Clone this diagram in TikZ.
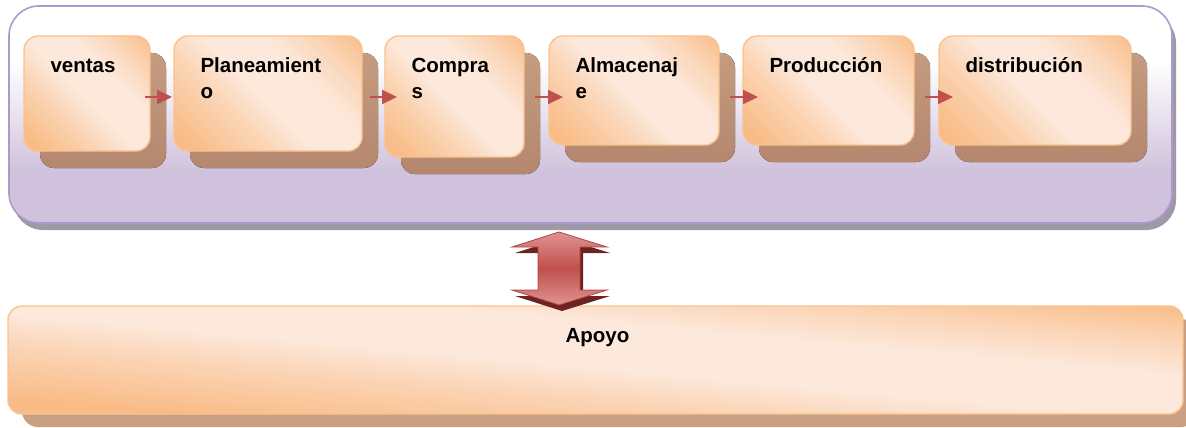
\documentclass[tikz,border=0pt]{standalone}
\usepackage{fontspec}
\setmainfont{Liberation Sans}
\usetikzlibrary{arrows.meta}
\definecolor{pkD}{HTML}{F9BC87}
\definecolor{pkM}{HTML}{FBD5B6}
\definecolor{pkL}{HTML}{FCE9DC}
\definecolor{pkB}{HTML}{F9C28F}
\definecolor{shT}{HTML}{C49C80}
\definecolor{shB}{HTML}{B4876E}
\definecolor{lavB}{HTML}{D0C2DC}
\definecolor{lavLine}{HTML}{AA9CCA}
\definecolor{lavSh}{HTML}{9E98A8}
\definecolor{tanSh}{HTML}{C9A082}
\definecolor{arrRed}{HTML}{C0504D}
\definecolor{rL}{HTML}{DC8E8C}
\definecolor{rD}{HTML}{C0504D}
\definecolor{rEdge}{HTML}{B04444}
\definecolor{rSh}{HTML}{6E2222}
\pgfdeclarehorizontalshading{peachdiag}{100bp}{color(0bp)=(pkD); color(20bp)=(pkD); color(37bp)=(pkM); color(48bp)=(pkL); color(62bp)=(pkL); color(74bp)=(pkM); color(86bp)=(pkD); color(100bp)=(pkD)}
\pgfdeclareverticalshading{lavv}{100bp}{color(0bp)=(lavB); color(37bp)=(lavB); color(62bp)=(white); color(100bp)=(white)}
\pgfdeclareverticalshading{redv}{100bp}{color(0bp)=(rL); color(27bp)=(rL); color(50bp)=(rD); color(73bp)=(rL); color(100bp)=(rL)}
\pgfdeclarelayer{back}
\pgfdeclarelayer{outerL}
\pgfdeclarelayer{shad}
\pgfsetlayers{back,outerL,shad,main}
\begin{document}
\begin{tikzpicture}[x=1pt,y=1pt,
  pbox/.style={draw=pkB, line width=1.4pt, rounded corners=14pt, shade, shading=peachdiag, shading angle=45, inner sep=0pt, outer sep=0pt, anchor=north west},
  pframe/.style={draw=pkB, line width=1.4pt, rounded corners=14pt, inner sep=0pt, outer sep=0pt, anchor=north west},
  shbox/.style={rounded corners=14pt, top color=shT, bottom color=shB},
  lbl/.style={font=\fontsize{20.5}{26}\selectfont\bfseries, inner sep=0pt, outer sep=0pt, anchor=base west, text=black},
  smallarr/.style={draw=arrRed, line width=2.2pt, -{Triangle[length=15pt,width=14pt]}}
]
\useasboundingbox (0,0) rectangle (1186,-428);
% outer container
\begin{pgfonlayer}{outerL}
\node[draw=lavLine, line width=1.6pt, rounded corners=30pt, shade, shading=lavv, minimum width=1163pt, minimum height=217pt, inner sep=0pt, outer sep=0pt, anchor=north west] (outer) at (9,-6) {};
\end{pgfonlayer}
\begin{pgfonlayer}{back}
\fill[lavSh, rounded corners=30pt] ([shift={(4,-7)}]outer.north west) rectangle ([shift={(4,-7)}]outer.south east);
\end{pgfonlayer}
% process boxes
\node[pbox, minimum width=126pt, minimum height=115pt] (ventas) at (24,-36) {};
\node[pbox, minimum width=188pt, minimum height=115pt] (plan) at (174,-36) {};
\node[pbox, minimum width=139pt, minimum height=121pt] (compras) at (385,-36) {};
\node[pbox, minimum width=170pt, minimum height=109pt] (alm) at (549,-36) {};
\node[pbox, minimum width=171pt, minimum height=109pt] (prod) at (743,-36) {};
\node[pbox, minimum width=192pt, minimum height=109pt] (dist) at (939,-36) {};
\begin{pgfonlayer}{shad}
\foreach \b in {ventas,plan,compras,alm,prod,dist}{
  \fill[shbox] ([shift={(16,-17)}]\b.north west) rectangle ([shift={(16,-17)}]\b.south east);
}
\end{pgfonlayer}
% labels
\node[lbl] (tventas) at ([shift={(26.5,-37)}]ventas.north west) {ventas};
\node[lbl] (tplan) at ([shift={(26.5,-37)}]plan.north west) {\parbox[t]{180pt}{Planeamient\\o}};
\node[lbl] (tcompras) at ([shift={(26.5,-37)}]compras.north west) {\parbox[t]{120pt}{Compra\\s}};
\node[lbl] (talm) at ([shift={(26.5,-37)}]alm.north west) {\parbox[t]{150pt}{Almacenaj\\e}};
\node[lbl] (tprod) at ([shift={(26.5,-37)}]prod.north west) {Producción};
\node[lbl] (tdist) at ([shift={(26.5,-37)}]dist.north west) {distribución};
% small arrows
\coordinate (arrowrow) at (0,-97);
\draw[smallarr] ([xshift=-5pt]ventas.east |- arrowrow) -- ([xshift=-2pt]plan.west |- arrowrow);
\draw[smallarr] ([xshift=8pt]plan.east |- arrowrow) -- ([xshift=12pt]compras.west |- arrowrow);
\draw[smallarr] ([xshift=11pt]compras.east |- arrowrow) -- ([xshift=14pt]alm.west |- arrowrow);
\draw[smallarr] ([xshift=11pt]alm.east |- arrowrow) -- ([xshift=15pt]prod.west |- arrowrow);
\draw[smallarr] ([xshift=11pt]prod.east |- arrowrow) -- ([xshift=14pt]dist.west |- arrowrow);
% support box
\node[pframe, minimum width=1175pt, minimum height=108pt] (apoyo) at (8,-306) {};
\begin{pgfonlayer}{shad}
\fill[tanSh, rounded corners=16pt] ([shift={(14,-13)}]apoyo.north west) rectangle ([shift={(14,-13)}]apoyo.south east);
\begin{scope}
\clip[rounded corners=14pt] (apoyo.north west) rectangle (apoyo.south east);
\shade[shading=peachdiag, shading angle=45, transform canvas={shift={(apoyo.south west)}, xscale=11.75, yscale=1.08}] (0,0) rectangle (100,100);
\end{scope}
\end{pgfonlayer}
\node[lbl, anchor=base] (tapoyo) at ([shift={(2,-36)}]apoyo.north) {Apoyo};
% double arrow
\begin{scope}[shift={(3,-6)}]
\fill[rSh] (559,-232) -- (607,-247) -- (580,-247) -- (580,-290) -- (607,-290) -- (559,-305) -- (512,-290) -- (538,-290) -- (538,-247) -- (512,-247) -- cycle;
\end{scope}
\draw[draw=rEdge, line width=0.8pt, shade, shading=redv] (559,-232) -- (607,-247) -- (580,-247) -- (580,-290) -- (607,-290) -- (559,-305) -- (512,-290) -- (538,-290) -- (538,-247) -- (512,-247) -- cycle;
\end{tikzpicture}
\end{document}
